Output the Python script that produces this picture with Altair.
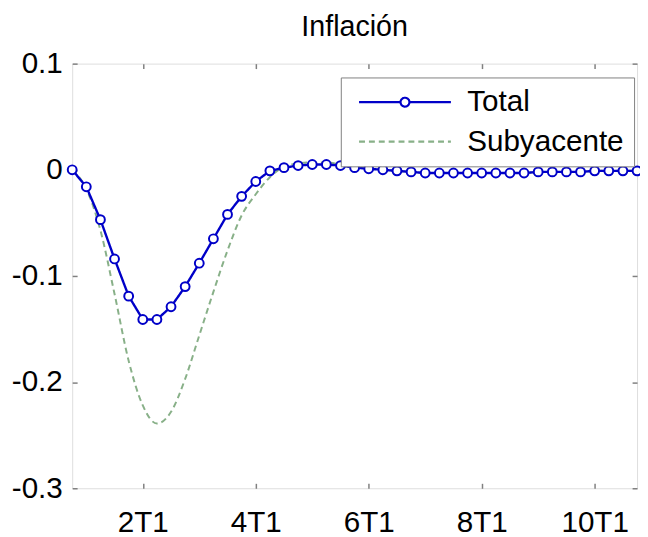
import altair as alt
import pandas as pd

# ---- data ----
quarters = list(range(41))
total = [0.000, -0.016, -0.047, -0.084, -0.119, -0.141, -0.141, -0.129, -0.110, -0.088,
         -0.065, -0.042, -0.025, -0.011, -0.001, 0.002, 0.004, 0.005, 0.005, 0.004,
         0.002, 0.001, 0.000, -0.001, -0.002, -0.003, -0.003, -0.003, -0.003, -0.003,
         -0.003, -0.003, -0.003, -0.002, -0.002, -0.002, -0.002, -0.001, -0.001, -0.001,
         -0.001]
subyacente = [0.000, -0.018, -0.057, -0.117, -0.180, -0.222, -0.239, -0.228, -0.197, -0.156,
              -0.115, -0.076, -0.043, -0.023, -0.007, 0.003, 0.006, 0.007, 0.007, 0.005,
              0.003, 0.001, 0.000, -0.001, -0.002, -0.003, -0.003, -0.003, -0.003, -0.003,
              -0.003, -0.003, -0.003, -0.002, -0.002, -0.002, -0.002, -0.001, -0.001, -0.001,
              -0.001]
series_names = ["Total", "Subyacente"]
x_tick_values = [5, 13, 21, 29, 37]
x_tick_labels = ["2T1", "4T1", "6T1", "8T1", "10T1"]
y_tick_values = [-0.3, -0.2, -0.1, 0.0, 0.1]

df = pd.DataFrame({
    "q": quarters + quarters,
    "v": total + subyacente,
    "serie": ["Total"] * len(total) + ["Subyacente"] * len(subyacente),
})

FONT = "Liberation Sans"
BLUE = "#0000c8"
GREEN = "#88b088"
GRAY = "#808080"
TICK = dict(ticks=True, tickSize=5, tickColor=GRAY, tickWidth=1.5, offset=-5,
            domain=False, grid=False, title=None, labelFlush=False, labelOverlap=False)

x_label_expr = " : ".join(
    f"datum.value == {v} ? '{l}'" for v, l in zip(x_tick_values, x_tick_labels)
) + " : ''"
y_label_expr = ("datum.value < 0 ? '-' + format(-datum.value, '.1~f') : "
                "format(datum.value, '.1~f')")

x_scale = alt.Scale(domain=[0, 40], nice=False, zero=False)
y_scale = alt.Scale(domain=[-0.3, 0.1], nice=False, zero=False)

x_enc = alt.X("q:Q", scale=x_scale,
              axis=alt.Axis(orient="bottom", values=x_tick_values, labelExpr=x_label_expr,
                            labelFontSize=30, labelFont=FONT, labelColor="black",
                            labelPadding=20, **TICK))
y_enc = alt.Y("v:Q", scale=y_scale,
              axis=alt.Axis(orient="left", values=y_tick_values, labelExpr=y_label_expr,
                            labelFontSize=30, labelFont=FONT, labelColor="black",
                            labelPadding=10, **TICK))
x_none = alt.X("q:Q", scale=x_scale, axis=None)
y_none = alt.Y("v:Q", scale=y_scale, axis=None)
x_top = alt.X("q:Q", scale=x_scale,
              axis=alt.Axis(orient="top", values=x_tick_values, labels=False, **TICK))
y_right = alt.Y("v:Q", scale=y_scale,
                axis=alt.Axis(orient="right", values=y_tick_values, labels=False, **TICK))

color_scale = alt.Scale(domain=series_names, range=[BLUE, GREEN])
dash_scale = alt.Scale(domain=series_names, range=[[1, 0], [6, 4]])
path_total = ("M-9.3,0H-0.9M0.9,0H9.3M0.9,0A0.9,0.9,0,1,1,-0.9,0"
              "A0.9,0.9,0,1,1,0.9,0")
path_sub = "M-9.3,0H9.3"
shape_scale = alt.Scale(domain=series_names, range=[path_total, path_sub])

leg = alt.Legend(title=None, orient="none", legendX=272, legendY=14,
                 fillColor="white", strokeColor=GRAY, padding=10,
                 labelFontSize=30, labelFont=FONT, labelColor="black",
                 symbolSize=100, symbolStrokeWidth=2.2, symbolOffset=40,
                 labelOffset=48, rowPadding=10, symbolFillColor="transparent")

color_enc = alt.Color("serie:N", scale=color_scale, legend=leg)
dash_enc = alt.StrokeDash("serie:N", scale=dash_scale, legend=leg)
shape_enc = alt.Shape("serie:N", scale=shape_scale, legend=leg)

base = alt.Chart(df)

line_sub = base.transform_filter("datum.serie == 'Subyacente'").mark_line(
    strokeWidth=2, interpolate="monotone").encode(
    x=x_enc, y=y_enc, color=color_enc, strokeDash=dash_enc)
line_total = base.transform_filter("datum.serie == 'Total'").mark_line(
    strokeWidth=2.4).encode(x=x_none, y=y_none, color=color_enc, strokeDash=dash_enc)
points = base.transform_filter("datum.serie == 'Total'").mark_point(
    shape="circle", filled=True, fill="white", stroke=BLUE, strokeWidth=2,
    size=80, opacity=1).encode(x=x_none, y=y_none)
legend_layer = base.transform_filter("datum.q < 0").mark_point(
    filled=False, opacity=1).encode(x=x_top, y=y_right, color=color_enc, shape=shape_enc)

chart = alt.layer(line_sub, line_total, points, legend_layer).resolve_axis(
    x="independent", y="independent"
).properties(
    width=572, height=430,
    title=alt.Title("Inflación", fontSize=29, font=FONT, fontWeight="normal",
                    color="black", anchor="middle", baseline="bottom", offset=0,
                    dy=22, frame="group"),
    autosize=alt.AutoSizeParams(type="none"),
    padding={"left": 65, "top": 53, "right": 3, "bottom": 46},
).configure_view(stroke=GRAY, strokeWidth=1.5).configure(background="white")

chart.save("out.html", embed_options={"renderer": "svg", "actions": False})
